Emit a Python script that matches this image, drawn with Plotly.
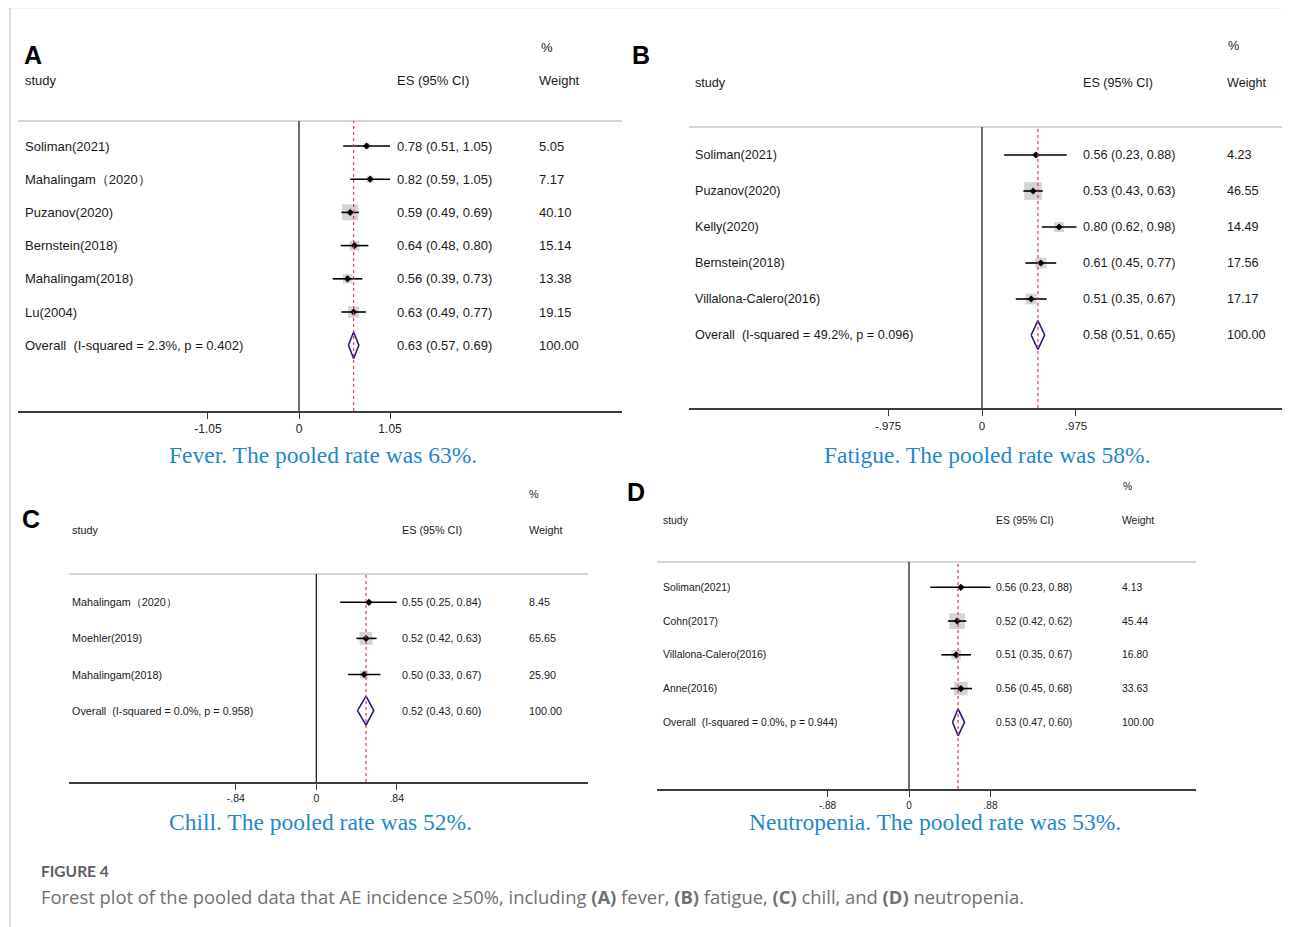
import math
import plotly.graph_objects as go

# The page body has an 8px margin, so the figure is drawn at (8, 8).
OFF = 8
W, H = 1290 - OFF, 927 - OFF
TXT = -2  # annotation padding compensation

# ---------------- DATA ----------------
a_studies = ["Soliman(2021)", "Mahalingam\uff082020\uff09", "Puzanov(2020)", "Bernstein(2018)", "Mahalingam(2018)", "Lu(2004)"]
a_es = [0.78, 0.82, 0.59, 0.64, 0.56, 0.63]
a_lo = [0.51, 0.59, 0.49, 0.48, 0.39, 0.49]
a_hi = [1.05, 1.05, 0.69, 0.80, 0.73, 0.77]
a_w = [5.05, 7.17, 40.10, 15.14, 13.38, 19.15]
a_overall = [0.63, 0.57, 0.69]
a_het = ["2.3%", "0.402"]
a_ticks = [-1.05, 0, 1.05]
a_ticktext = ["-1.05", "0", "1.05"]

b_studies = ["Soliman(2021)", "Puzanov(2020)", "Kelly(2020)", "Bernstein(2018)", "Villalona-Calero(2016)"]
b_es = [0.56, 0.53, 0.80, 0.61, 0.51]
b_lo = [0.23, 0.43, 0.62, 0.45, 0.35]
b_hi = [0.88, 0.63, 0.98, 0.77, 0.67]
b_w = [4.23, 46.55, 14.49, 17.56, 17.17]
b_overall = [0.58, 0.51, 0.65]
b_het = ["49.2%", "0.096"]
b_ticks = [-0.975, 0, 0.975]
b_ticktext = ["-.975", "0", ".975"]

c_studies = ["Mahalingam\uff082020\uff09", "Moehler(2019)", "Mahalingam(2018)"]
c_es = [0.55, 0.52, 0.50]
c_lo = [0.25, 0.42, 0.33]
c_hi = [0.84, 0.63, 0.67]
c_w = [8.45, 65.65, 25.90]
c_overall = [0.52, 0.43, 0.60]
c_het = ["0.0%", "0.958"]
c_ticks = [-0.84, 0, 0.84]
c_ticktext = ["-.84", "0", ".84"]

d_studies = ["Soliman(2021)", "Cohn(2017)", "Villalona-Calero(2016)", "Anne(2016)"]
d_es = [0.56, 0.52, 0.51, 0.56]
d_lo = [0.23, 0.42, 0.35, 0.45]
d_hi = [0.88, 0.62, 0.67, 0.68]
d_w = [4.13, 45.44, 16.80, 33.63]
d_overall = [0.53, 0.47, 0.60]
d_het = ["0.0%", "0.944"]
d_ticks = [-0.88, 0, 0.88]
d_ticktext = ["-.88", "0", ".88"]

captions = ["Fever. The pooled rate was 63%.", "Fatigue. The pooled rate was 58%.",
            "Chill. The pooled rate was 52%.", "Neutropenia. The pooled rate was 53%."]
letters = ["A", "B", "C", "D"]

# ---------------- LAYOUT GEOMETRY (page pixels) ----------------
panels = [
    dict(studies=a_studies, es=a_es, lo=a_lo, hi=a_hi, w=a_w, ov=a_overall, het=a_het,
         ticks=a_ticks, ticktext=a_ticktext,
         x0=299, scale=86.7, left=18, right=622, top=121, bottom=411, y0=146, dy=33.2,
         tx_study=25, tx_es=397, tx_w=539, hdr_y=81, pct_x=541, pct_y=47,
         let_x=24, let_y=55, cap_x=323, cap_y=455, fs=13, tfs=12, k=2.53),
    dict(studies=b_studies, es=b_es, lo=b_lo, hi=b_hi, w=b_w, ov=b_overall, het=b_het,
         ticks=b_ticks, ticktext=b_ticktext,
         x0=982, scale=96.4, left=689, right=1286, top=127, bottom=408, y0=155, dy=36,
         tx_study=695, tx_es=1083, tx_w=1227, hdr_y=83, pct_x=1228, pct_y=46,
         let_x=632, let_y=55, cap_x=987, cap_y=455, fs=12.6, tfs=11.5, k=2.6),
    dict(studies=c_studies, es=c_es, lo=c_lo, hi=c_hi, w=c_w, ov=c_overall, het=c_het,
         ticks=c_ticks, ticktext=c_ticktext,
         x0=316.3, scale=95.7, left=69, right=588, top=574, bottom=782, y0=602.3, dy=36.1,
         tx_study=72, tx_es=402.5, tx_w=528.5, hdr_y=530, pct_x=529, pct_y=494,
         let_x=22, let_y=519, cap_x=320, cap_y=822, fs=10.8, tfs=10.5, k=1.6),
    dict(studies=d_studies, es=d_es, lo=d_lo, hi=d_hi, w=d_w, ov=d_overall, het=d_het,
         ticks=d_ticks, ticktext=d_ticktext,
         x0=909, scale=92.6, left=657, right=1196, top=562, bottom=789, y0=587.3, dy=33.75,
         tx_study=663, tx_es=996, tx_w=1122, hdr_y=520, pct_x=1123, pct_y=486,
         let_x=627, let_y=492, cap_x=935, cap_y=822, fs=10.4, tfs=10, k=2.34),
]

SANS = "Liberation Sans, Arial, sans-serif"
NB = "\u00a0"

fig = go.Figure()
shapes = []
annotations = []
layout_axes = {}


def px(x):
    return (x - OFF) / W


def tx(x):
    return (x + TXT - OFF) / W


def py(y):
    return 1 - (y - OFF) / H


for n, p in enumerate(panels):
    idx = "" if n == 0 else str(n + 1)
    xa, ya = "x" + idx, "y" + idx
    nst = len(p["studies"])
    rows = list(range(nst))
    ov_row = nst

    xmin = (p["left"] - p["x0"]) / p["scale"]
    xmax = (min(p["right"], OFF + W) - p["x0"]) / p["scale"]
    ybot = (p["bottom"] - p["y0"]) / p["dy"]
    ytop = (p["top"] - p["y0"]) / p["dy"]

    layout_axes["xaxis" + idx] = dict(
        domain=[px(p["left"]), min(1, px(p["right"]))], range=[xmin, xmax], anchor=ya,
        showgrid=False, zeroline=False, showline=True, linecolor="#3c3c3c", linewidth=1.5,
        ticks="outside", ticklen=6, tickwidth=1.2, tickcolor="#3c3c3c",
        tickvals=p["ticks"], ticktext=p["ticktext"],
        tickfont=dict(family=SANS, size=p["tfs"], color="#222"), fixedrange=True)
    layout_axes["yaxis" + idx] = dict(
        domain=[py(p["bottom"]), py(p["top"])], range=[ybot, ytop], anchor=xa,
        visible=False, showgrid=False, zeroline=False, fixedrange=True)

    # weight boxes
    fig.add_trace(go.Scatter(
        x=p["es"], y=rows, xaxis=xa, yaxis=ya, mode="markers", hoverinfo="skip",
        marker=dict(symbol="square", size=[p["k"] * math.sqrt(v) for v in p["w"]],
                    color="#c2c2c2", line=dict(width=0)), showlegend=False))
    # point estimates with CI
    fig.add_trace(go.Scatter(
        x=p["es"], y=rows, xaxis=xa, yaxis=ya, mode="markers",
        marker=dict(symbol="diamond", size=5.5, color="black"),
        error_x=dict(type="data", symmetric=False,
                     array=[h - e for h, e in zip(p["hi"], p["es"])],
                     arrayminus=[e - l for e, l in zip(p["es"], p["lo"])],
                     width=0, thickness=1.6, color="black"),
        showlegend=False))
    # overall diamond
    es, lo, hi = p["ov"]
    fig.add_trace(go.Scatter(
        x=[lo, es, hi, es, lo], y=[ov_row, ov_row - 0.4, ov_row, ov_row + 0.4, ov_row],
        xaxis=xa, yaxis=ya, mode="lines", line=dict(color="#1c1c8a", width=1.6),
        showlegend=False, hoverinfo="skip"))

    # lines
    shapes.append(dict(type="line", xref=xa + " domain", yref=ya + " domain", x0=0, x1=1, y0=1, y1=1,
                       line=dict(color="#d6d6d6", width=2), layer="below"))
    shapes.append(dict(type="line", xref=xa, yref=ya + " domain", x0=0, x1=0, y0=0, y1=1,
                       line=dict(color="#111", width=1.2), layer="below"))
    shapes.append(dict(type="line", xref=xa, yref=ya + " domain", x0=es, x1=es, y0=0, y1=1,
                       line=dict(color="#e23b48", width=1.2, dash="3px,3px"), layer="above"))

    f = dict(family=SANS, size=p["fs"], color="#1a1a1a")
    # headers
    for txt, xx, yy in [("study", p["tx_study"], p["hdr_y"]), ("ES (95% CI)", p["tx_es"], p["hdr_y"]),
                        ("Weight", p["tx_w"], p["hdr_y"]), ("%", p["pct_x"], p["pct_y"])]:
        annotations.append(dict(text=txt, x=tx(xx), y=py(yy), xref="paper", yref="paper",
                                xanchor="left", yanchor="middle", showarrow=False, font=f))
    # rows
    labels = p["studies"] + ["Overall" + NB + NB + "(I-squared = %s, p = %s)" % (p["het"][0], p["het"][1])]
    es_all = p["es"] + [es]
    lo_all = p["lo"] + [lo]
    hi_all = p["hi"] + [hi]
    w_all = p["w"] + [100.0]
    for i, lab in enumerate(labels):
        annotations.append(dict(text=lab, x=tx(p["tx_study"]), y=i, xref="paper", yref=ya,
                                xanchor="left", yanchor="middle", showarrow=False, font=f))
        annotations.append(dict(text="%.2f (%.2f, %.2f)" % (es_all[i], lo_all[i], hi_all[i]),
                                x=tx(p["tx_es"]), y=i, xref="paper", yref=ya,
                                xanchor="left", yanchor="middle", showarrow=False, font=f))
        annotations.append(dict(text="%.2f" % w_all[i], x=tx(p["tx_w"]), y=i, xref="paper", yref=ya,
                                xanchor="left", yanchor="middle", showarrow=False, font=f))
    # panel letter
    annotations.append(dict(text="<b>%s</b>" % letters[n], x=tx(p["let_x"]), y=py(p["let_y"]),
                            xref="paper", yref="paper", xanchor="left", yanchor="middle", showarrow=False,
                            font=dict(family=SANS, size=25, color="black")))
    # caption
    annotations.append(dict(text=captions[n], x=px(p["cap_x"]), y=py(p["cap_y"]), xref="paper", yref="paper",
                            xanchor="center", yanchor="middle", showarrow=False,
                            font=dict(family="Liberation Serif, Times New Roman, serif", size=23.5,
                                      color="#1f88cc")))

# footer
annotations.append(dict(text="<b>FIGURE 4</b>", x=tx(41), y=py(871), xref="paper", yref="paper",
                        xanchor="left", yanchor="middle", showarrow=False,
                        font=dict(family="Lato, Open Sans, sans-serif", size=15.5, color="#5e5e5e")))
annotations.append(dict(text="Forest plot of the pooled data that AE incidence \u226550%, including <b>(A)</b> fever, "
                             "<b>(B)</b> fatigue, <b>(C)</b> chill, and <b>(D)</b> neutropenia.",
                        x=tx(41), y=py(896), xref="paper", yref="paper",
                        xanchor="left", yanchor="middle", showarrow=False,
                        font=dict(family="Open Sans, Lato, sans-serif", size=18.4, color="#707070")))

# outer frame
shapes.append(dict(type="line", xref="paper", yref="paper", x0=px(10), x1=1, y0=py(7.5), y1=py(7.5),
                   line=dict(color="#cfcfcf", width=1.5)))
shapes.append(dict(type="line", xref="paper", yref="paper", x0=px(10), x1=px(10), y0=py(7.5), y1=0,
                   line=dict(color="#cfcfcf", width=1.5)))

fig.update_layout(width=W, height=H, margin=dict(l=0, r=0, t=0, b=0),
                  paper_bgcolor="white", plot_bgcolor="white", showlegend=False,
                  shapes=shapes, annotations=annotations, **layout_axes)

fig.write_html("out.html")
